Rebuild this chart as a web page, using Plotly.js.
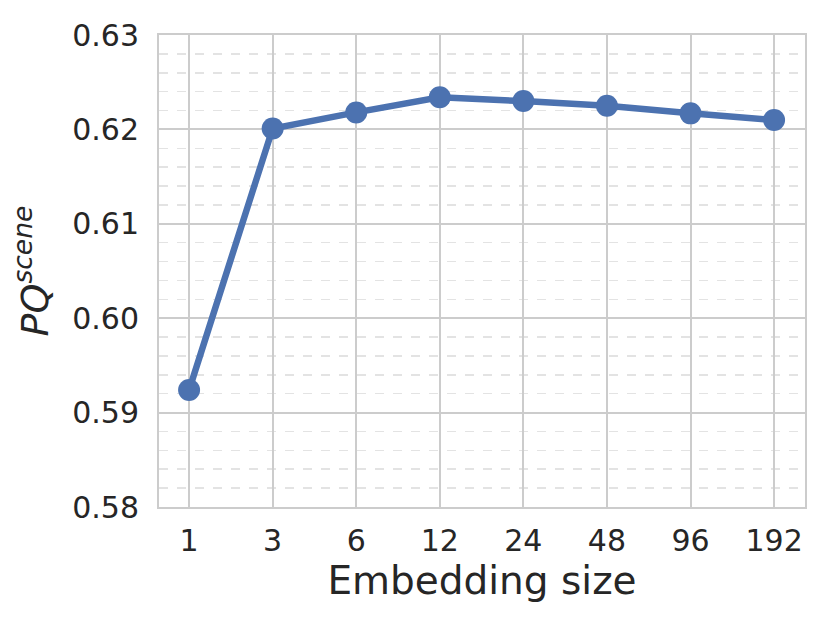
<!DOCTYPE html>
<html>
<head>
<meta charset="utf-8">
<script src="https://cdn.plot.ly/plotly-3.0.1.min.js"></script>
<style>body{margin:0;background:#fff;} #chart{width:830px;height:623px;}</style>
</head>
<body>
<div id="chart"></div>
<script>
// embedding size vs PQ scene
const sizes = ["1", "3", "6", "12", "24", "48", "96", "192"];
const pqScene = [0.5924, 0.6201, 0.6218, 0.6234, 0.6230, 0.6225, 0.6217, 0.6210];

const trace = {
	x: sizes,
	y: pqScene,
	type: "scatter",
	mode: "lines+markers",
	line: {color: "#4c72b0", width: 6.5},
	marker: {color: "#4c72b0", size: 22},
	cliponaxis: false
};

const layout = {
	width: 830,
	height: 623,
	font: {family: "DejaVu Sans", color: "#262626"},
	paper_bgcolor: "white",
	plot_bgcolor: "white",
	margin: {l: 159, r: 25, t: 35, b: 116},
	showlegend: false,
	xaxis: {
		type: "category",
		range: [-0.36, 7.37],
		title: {text: "Embedding size", font: {size: 39}, standoff: 4},
		tickfont: {size: 30},
		ticklabelstandoff: 6,
		showgrid: true,
		gridcolor: "#cccccc",
		gridwidth: 2,
		showline: true,
		linecolor: "#cccccc",
		linewidth: 2,
		mirror: true,
		ticks: "",
		zeroline: false
	},
	yaxis: {
		range: [0.58, 0.63],
		tickvals: [0.58, 0.59, 0.60, 0.61, 0.62, 0.63],
		ticktext: ["0.58", "0.59", "0.60", "0.61", "0.62", "0.63"],
		title: {text: "<i>PQ</i><sup><i>scene</i></sup>", font: {size: 38}, standoff: 12},
		tickfont: {size: 30},
		ticklabelstandoff: 12,
		showgrid: true,
		gridcolor: "#cccccc",
		gridwidth: 2,
		minor: {dtick: 0.002, tick0: 0.58, showgrid: true, gridcolor: "#e3e3e3", griddash: "dash", gridwidth: 1.5},
		showline: true,
		linecolor: "#cccccc",
		linewidth: 2,
		mirror: true,
		ticks: "",
		zeroline: false
	}
};

Plotly.newPlot("chart", [trace], layout, {displayModeBar: false, staticPlot: true});
</script>
</body>
</html>
